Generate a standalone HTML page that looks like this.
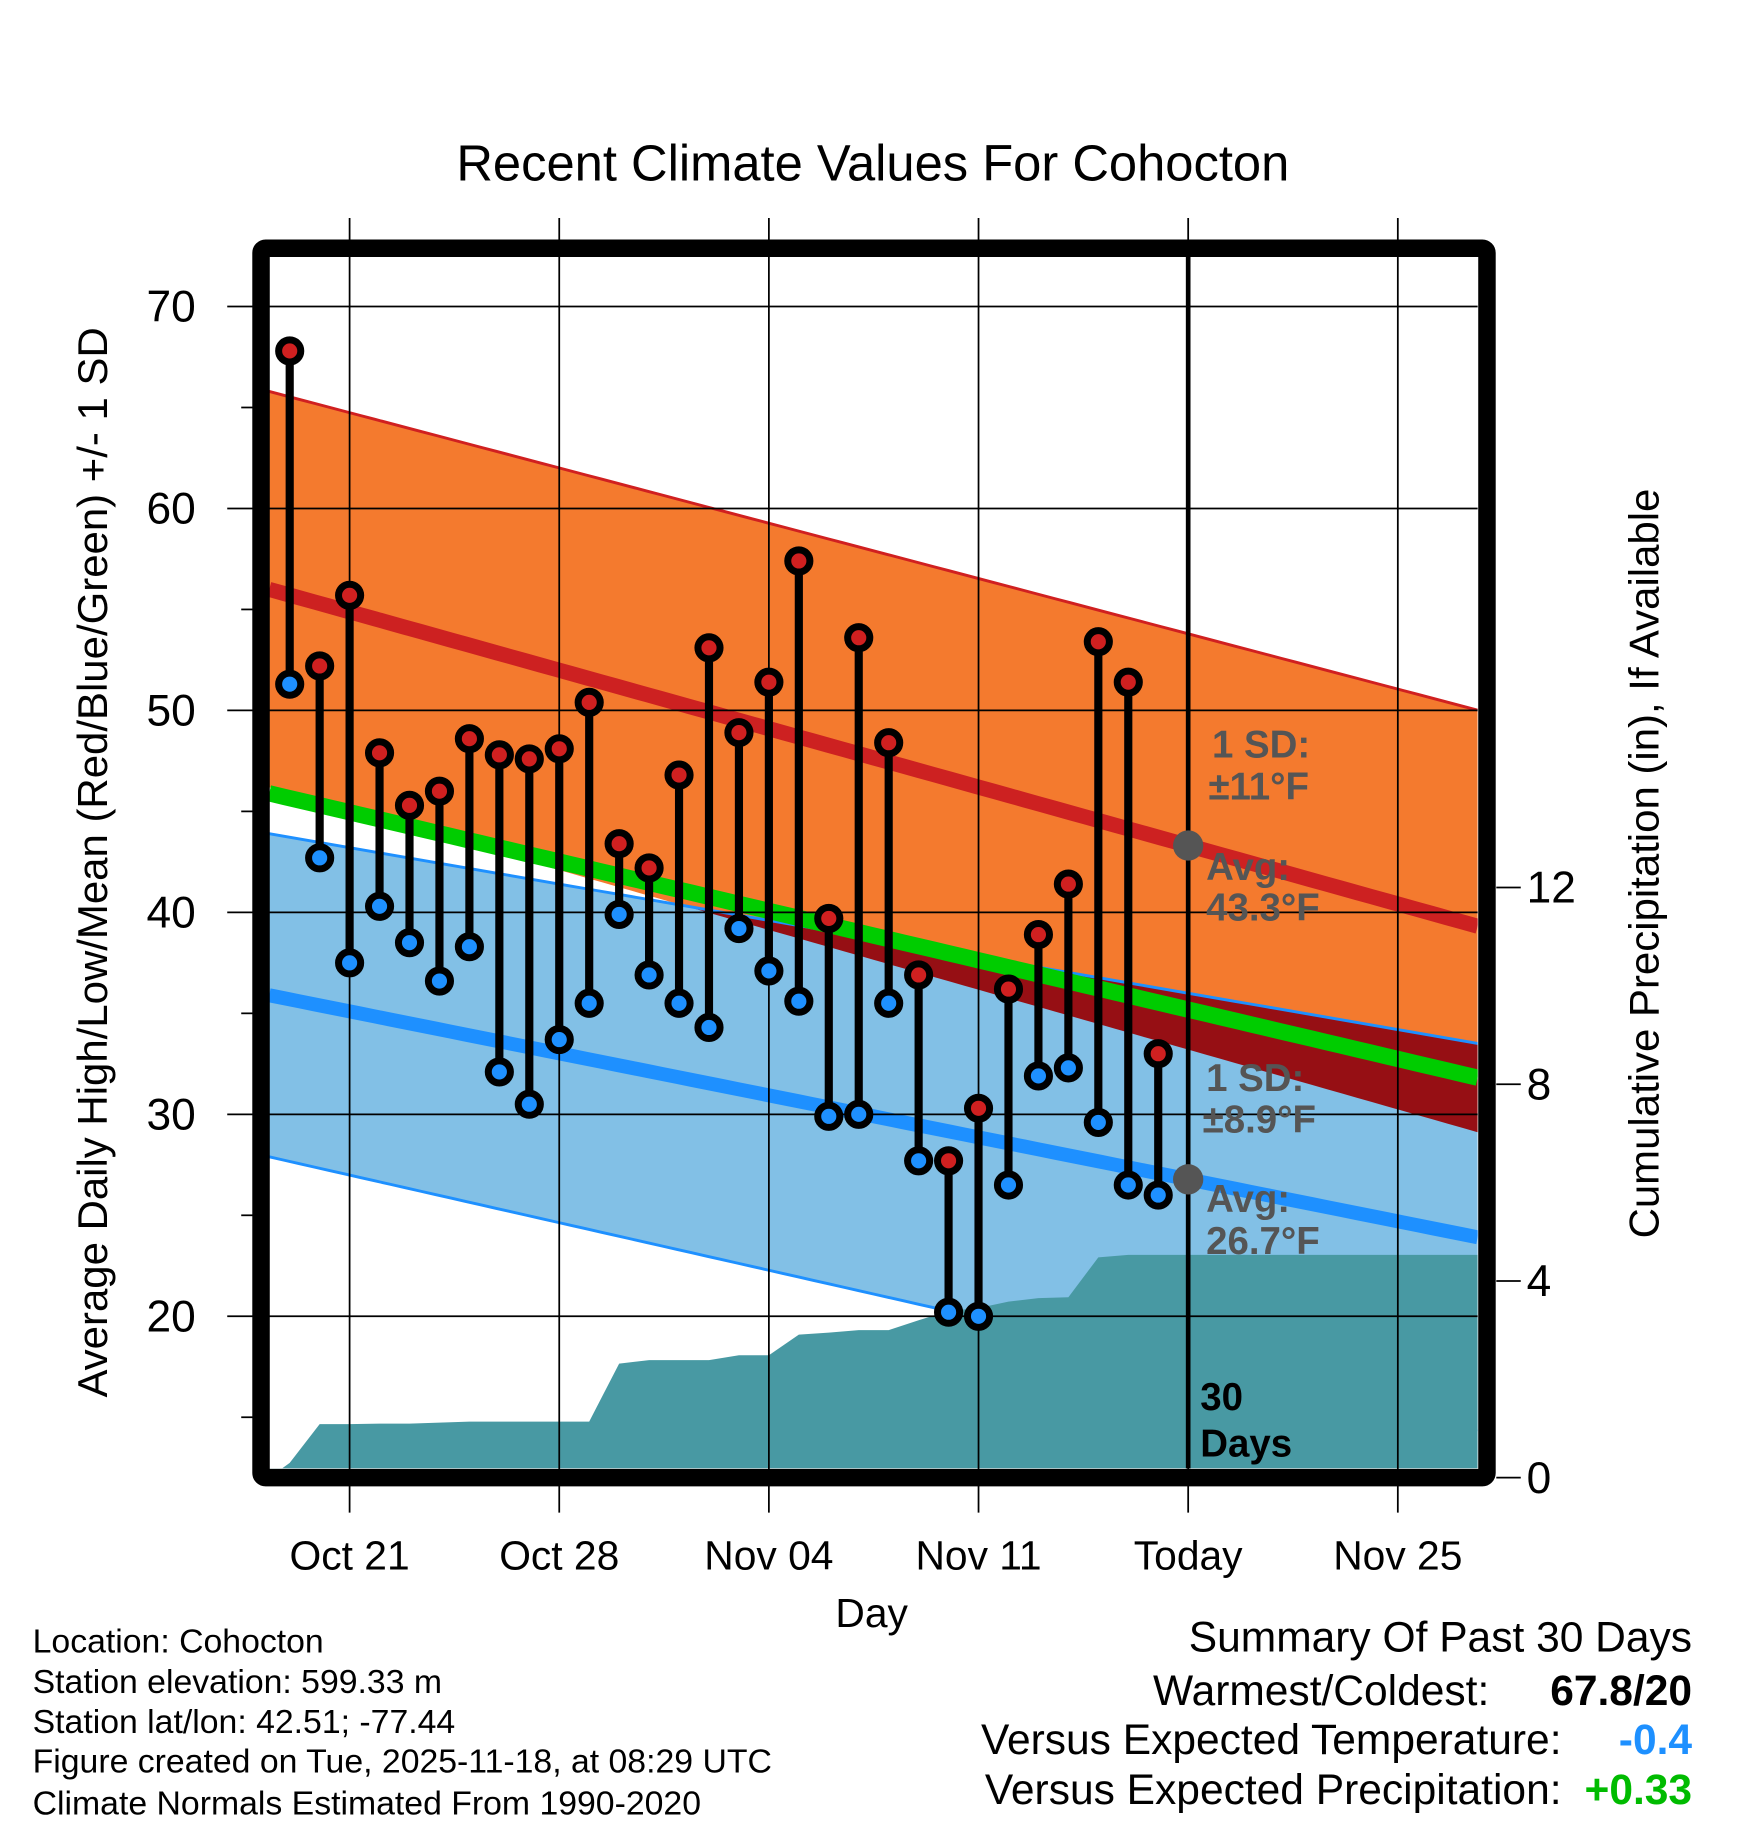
<!DOCTYPE html>
<html><head><meta charset="utf-8">
<style>
html,body{margin:0;padding:0;background:#fff;}
svg{display:block;font-family:"Liberation Sans",Arial,sans-serif;}
</style></head>
<body>
<svg id="chart" width="1748" height="1828" viewBox="0 0 1500 1568.6" xmlns="http://www.w3.org/2000/svg">
<text x="749" y="155" font-size="43.5" text-anchor="middle">Recent Climate Values For Cohocton</text>
<g id="plot"></g>
</svg>
<script>
// ---- data ----
const dayLabels = ["Oct 21","Oct 28","Nov 04","Nov 11","Today","Nov 25"];
const dayLabelOffsets = [2,9,16,23,30,37]; // days after Oct 19
const highs = [67.8,52.2,55.7,47.9,45.3,46.0,48.6,47.8,47.6,48.1,50.4,43.4,42.2,46.8,53.1,48.9,51.4,57.4,39.7,53.6,48.4,36.9,27.7,30.3,36.2,38.9,41.4,53.4,51.4,33.0];
const lows  = [51.3,42.7,37.5,40.3,38.5,36.6,38.3,32.1,30.5,33.7,35.5,39.9,36.9,35.5,34.3,39.2,37.1,35.6,29.9,30.0,35.5,27.7,20.2,20.0,26.5,31.9,32.3,29.6,26.5,26.0];
const precip = [0.3,1.09,1.09,1.10,1.10,1.12,1.14,1.14,1.14,1.14,1.14,2.32,2.39,2.39,2.39,2.49,2.49,2.91,2.95,3.0,3.0,3.2,3.39,3.45,3.58,3.65,3.67,4.48,4.53,4.53];
const normalDays = [-0.7, 39.7];
const highAvg = [56.0, 39.3];
const highSDUp  = [9.8, 10.7];
const highSDLow = [9.8, 10.2];
const lowAvg  = [35.9, 23.9];
const lowSD   = [8.0, 9.6];
const meanAvg = [45.9, 31.8];
const yTicks = [20,30,40,50,60,70];
const pTicks = [0,4,8,12];
</script>
<script>
const NS="http://www.w3.org/2000/svg";
const plot=document.getElementById('plot');
const X0=231,X1=1268,Y0=220,Y1=1260;
function xs(d){return 248.6+25.7*d;}
function ys(t){return 263+(70-t)*17.33;}
function ps(p){return 1268-p*42.2;}
function mk(tag,attrs,parent){const e=document.createElementNS(NS,tag);for(const k in attrs)e.setAttribute(k,attrs[k]);(parent||plot).appendChild(e);return e;}
function lin(arr,d){const f=(d-normalDays[0])/(normalDays[1]-normalDays[0]);return arr[0]+(arr[1]-arr[0])*f;}
const dStart=(X0-248.6)/25.7, dEnd=(X1-248.6)/25.7;
const clip=mk('clipPath',{id:'pc'});mk('rect',{x:X0,y:Y0,width:X1-X0,height:Y1-Y0},clip);
const g=mk('g',{'clip-path':'url(#pc)'});


const N=80,samples=[];for(let i=0;i<=N;i++)samples.push(dStart+(dEnd-dStart)*i/N);
function band(fu,fl,fill,name){let pts=samples.map(d=>xs(d)+','+ys(fu(d)));pts=pts.concat(samples.slice().reverse().map(d=>xs(d)+','+ys(fl(d))));const p=mk('polygon',{points:pts.join(' '),fill:fill},g);return p;}
function line(f,color,w,name){const p=mk('polyline',{points:samples.map(d=>xs(d)+','+ys(f(d))).join(' '),fill:'none',stroke:color,'stroke-width':w},g);}
const hU=d=>lin(highAvg,d)+lin(highSDUp,d), hL=d=>lin(highAvg,d)-lin(highSDLow,d);
const lU=d=>lin(lowAvg,d)+lin(lowSD,d), lL=d=>lin(lowAvg,d)-lin(lowSD,d);
band(hU,hL,'#f47a2e','high-sd-band');
band(lU,lL,'#82c0e6','low-sd-band');
band(d=>Math.max(lU(d),hL(d)),hL,'#960f14','overlap-band');
line(hU,'#d02020',2.5,'high-sd-upper');
line(lU,'#1e90ff',2.5,'low-sd-upper');
line(lL,'#1e90ff',2.5,'low-sd-lower');
let pp=[X0+','+Y1, X0+','+ps(0)];
precip.forEach((v,i)=>pp.push(xs(i)+','+ps(v)));
pp.push(X1+','+ps(precip[precip.length-1]),X1+','+Y1);
const pa=mk('polygon',{points:pp.join(' '),fill:'#4899a3'},g);


line(d=>lin(highAvg,d),'#cd2121',13,'high-avg-line');
line(d=>lin(lowAvg,d),'#1e90ff',12,'low-avg-line');
line(d=>lin(meanAvg,d),'#00cc00',14,'mean-avg-line');
yTicks.forEach(t=>{const l=mk('line',{x1:195,x2:X1,y1:ys(t),y2:ys(t),stroke:'#000','stroke-width':1.5});
 const tx=mk('text',{x:168,y:ys(t)+13,'font-size':38,'text-anchor':'end'});tx.textContent=t;});
for(let t=15;t<=70;t+=10){const l=mk('line',{x1:207,x2:218,y1:ys(t),y2:ys(t),stroke:'#000','stroke-width':1.5});}
dayLabels.forEach((lab,i)=>{const x=xs(dayLabelOffsets[i]);const l=mk('line',{x1:x,x2:x,y1:187,y2:1298,stroke:'#000','stroke-width':1.5});
 const tx=mk('text',{x:x,y:1347,'font-size':35,'text-anchor':'middle'});tx.textContent=lab;});
pTicks.forEach(t=>{const l=mk('line',{x1:1284,x2:1305,y1:ps(t),y2:ps(t),stroke:'#000','stroke-width':1.5});
 const tx=mk('text',{x:1310,y:ps(t)+13,'font-size':38});tx.textContent=t;});
const tl=mk('line',{x1:xs(30),x2:xs(30),y1:Y0,y2:Y1,stroke:'#000','stroke-width':4});

highs.forEach((h,i)=>{const x=xs(i);
 const s=mk('line',{x1:x,x2:x,y1:ys(h),y2:ys(lows[i]),stroke:'#000','stroke-width':7});});
highs.forEach((h,i)=>{const x=xs(i);
 const a=mk('circle',{cx:x,cy:ys(h),r:9.5,fill:'#d02020',stroke:'#000','stroke-width':6});
 const b=mk('circle',{cx:x,cy:ys(lows[i]),r:9.5,fill:'#1e90ff',stroke:'#000','stroke-width':6});});
const d1=mk('circle',{cx:xs(30),cy:ys(lin(highAvg,30)),r:13,fill:'#555'});
const d2=mk('circle',{cx:xs(30),cy:ys(lin(lowAvg,30)),r:13,fill:'#555'});
const ann=[["1 SD:",1040,650,"#555"],["±11°F",1037,686,"#555"],["Avg:",1035,755,"#555"],["43.3°F",1035,790,"#555"],["1 SD:",1035,936,"#555"],["±8.9°F",1032,972,"#555"],["Avg:",1035,1040,"#555"],["26.7°F",1035,1076,"#555"],["30",1030,1210,"#000"],["Days",1030,1250,"#000"]];
ann.forEach(a=>{const t=mk('text',{x:a[1],y:a[2],'font-size':33,'font-weight':'bold',fill:a[3]});t.textContent=a[0];});
const fr=mk('rect',{x:224,y:213,width:1052,height:1055,fill:'none',stroke:'#000','stroke-width':15,rx:4});

const yt=mk('text',{x:0,y:0,'font-size':36,'text-anchor':'middle',transform:'translate(92,740) rotate(-90)'});yt.textContent='Average Daily High/Low/Mean (Red/Blue/Green) +/- 1 SD';
const rt=mk('text',{x:0,y:0,'font-size':36,'text-anchor':'middle',transform:'translate(1423,741) rotate(-90)'});rt.textContent='Cumulative Precipitation (in), If Available';
const xt=mk('text',{x:748,y:1396,'font-size':35,'text-anchor':'middle'});xt.textContent='Day';
const info=["Location: Cohocton","Station elevation: 599.33 m","Station lat/lon: 42.51; -77.44","Figure created on Tue, 2025-11-18, at 08:29 UTC","Climate Normals Estimated From 1990-2020"];
const iy=[1418,1453,1487,1521,1557];
info.forEach((s,i)=>{const t=mk('text',{x:28,y:iy[i],'font-size':29});t.textContent=s;});
const sum=[["Summary Of Past 30 Days",1452,1417,"#000","normal"],["Warmest/Coldest:",1278,1463,"#000","normal"],["67.8/20",1452,1463,"#000","bold"],["Versus Expected Temperature:",1340,1505,"#000","normal"],["-0.4",1452,1505,"#1e90ff","bold"],["Versus Expected Precipitation:",1340,1548,"#000","normal"],["+0.33",1452,1548,"#00bb00","bold"]];
sum.forEach(s=>{const t=mk('text',{x:s[1],y:s[2],'font-size':36.5,'text-anchor':'end',fill:s[3],'font-weight':s[4]});t.textContent=s[0];});
</script>
</body></html>
